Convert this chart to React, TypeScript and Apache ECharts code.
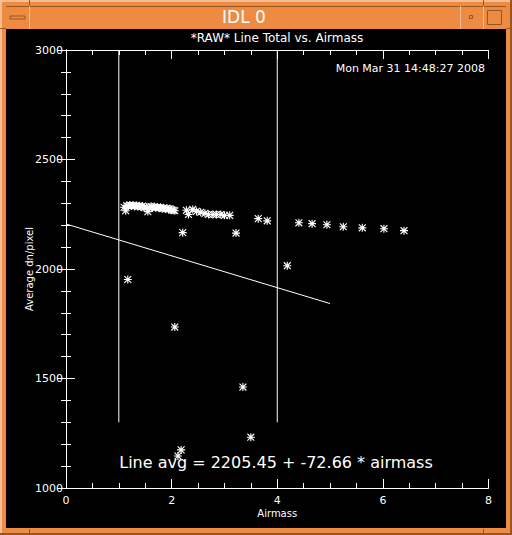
import React, { useEffect, useRef } from "react";
import * as echarts from "echarts";

const windowTitle = "IDL 0";
const chartTitle = "*RAW* Line Total vs. Airmass";
const timeStamp = "Mon Mar 31 14:48:27 2008";
const fitLabel = "Line avg = 2205.45 + -72.66 * airmass";
const xName = "Airmass";
const yName = "Average dn/pixel";

const fitIntercept = 2205.45;
const fitSlope = -72.66;
const fitXRange = [0, 5];

const markerX1 = 1;
const markerX2 = 4;
const markerYRange = [1300, 3000];

const clusterPoints: [number, number][] = [
  [1.1, 2282], [1.13, 2266], [1.15, 2290], [1.18, 2286], [1.21, 2292], [1.24, 2288],
  [1.27, 2291], [1.3, 2287], [1.33, 2290], [1.36, 2285], [1.39, 2289], [1.42, 2284],
  [1.45, 2287], [1.48, 2280], [1.52, 2283], [1.55, 2262], [1.58, 2278], [1.61, 2286],
  [1.64, 2282], [1.67, 2284], [1.7, 2280], [1.73, 2283], [1.76, 2279], [1.79, 2281],
  [1.82, 2276], [1.85, 2279], [1.88, 2274], [1.91, 2277], [1.94, 2272], [1.97, 2275],
  [2.0, 2270], [2.03, 2268], [2.06, 2266],
];

const middlePoints: [number, number][] = [
  [2.28, 2268], [2.32, 2249], [2.4, 2272], [2.47, 2263], [2.55, 2259], [2.63, 2254],
  [2.7, 2249], [2.78, 2249], [2.85, 2249], [2.93, 2249], [3.0, 2245], [3.1, 2245],
];

const tailPoints: [number, number][] = [
  [3.64, 2230], [3.81, 2220], [4.41, 2211], [4.66, 2207], [4.94, 2202],
  [5.25, 2193], [5.61, 2188], [6.02, 2184], [6.4, 2175],
];

const outlierPoints: [number, number][] = [
  [1.17, 1952], [2.21, 2166], [3.22, 2164], [2.06, 1735], [3.35, 1461],
  [3.5, 1232], [2.18, 1174], [2.12, 1146], [4.19, 2015],
];

const xTicks = { min: 0, max: 8, interval: 2 };
const yTicks = { min: 1000, max: 3000, interval: 500 };

const ASTERISK =
  "path://M0,4.3L10,4.3L10,5.7L0,5.7Z M4.3,0L5.7,0L5.7,10L4.3,10Z M1.2,0.2L9.8,8.8L8.8,9.8L0.2,1.2Z M8.8,0.2L9.8,1.2L1.2,9.8L0.2,8.8Z";

const FONT = "DejaVu Sans";
const ORANGE = "#EE8B43";
const LIGHT = "#F7BE96";
const DARK = "#9A5420";

export default function App() {
  const ref = useRef<HTMLDivElement>(null);
  useEffect(() => {
    document.body.style.margin = "0";
    const chart = echarts.init(ref.current!, null, { renderer: "svg" });
    const W = 512;
    const H = 535;
    const axisLine = { show: true, lineStyle: { color: "#fff", width: 1 } };
    const axisTick = { show: true, inside: true, length: 9, lineStyle: { color: "#fff" } };
    const minorBase = { show: true, length: 5, lineStyle: { color: "#fff" } };
    const splitLine = { show: false };
    const allPoints = [...clusterPoints, ...middlePoints, ...tailPoints, ...outlierPoints];
    const plain = (v: number) => String(v);
    chart.setOption({
      animation: false,
      backgroundColor: ORANGE,
      textStyle: { fontFamily: FONT },
      grid: { left: 66, top: 50, right: 23.5, bottom: 47, containLabel: false },
      xAxis: [
        {
          type: "value",
          ...xTicks,
          position: "bottom",
          name: xName,
          nameLocation: "middle",
          nameGap: 20,
          nameMoveOverlap: false,
          nameTextStyle: { color: "#fff", fontSize: 10, fontFamily: FONT },
          axisLabel: { color: "#fff", fontSize: 11, margin: 7, fontFamily: FONT, formatter: plain },
          minorTick: { ...minorBase, splitNumber: 4 },
          axisLine, axisTick, splitLine,
        },
        {
          type: "value",
          ...xTicks,
          position: "top",
          axisLabel: { show: false },
          minorTick: { ...minorBase, splitNumber: 4 },
          axisLine, axisTick, splitLine,
        },
      ],
      yAxis: [
        {
          type: "value",
          ...yTicks,
          position: "left",
          name: yName,
          nameLocation: "middle",
          nameGap: 32,
          nameMoveOverlap: false,
          nameTextStyle: { color: "#fff", fontSize: 10, fontFamily: FONT },
          axisLabel: { color: "#fff", fontSize: 11, margin: 3, fontFamily: FONT, formatter: plain },
          minorTick: { ...minorBase, splitNumber: 5 },
          axisLine, axisTick, splitLine,
        },
        {
          type: "value",
          ...yTicks,
          position: "right",
          axisLabel: { show: false },
          minorTick: { ...minorBase, splitNumber: 5 },
          axisLine, axisTick, splitLine,
        },
      ],
      graphic: [
        { type: "rect", z: -10, shape: { x: 0, y: 0, width: W, height: H }, style: { fill: ORANGE } },
        { type: "rect", z: -9, shape: { x: 0, y: 0, width: W, height: 2 }, style: { fill: LIGHT } },
        { type: "rect", z: -9, shape: { x: 0, y: 0, width: 2, height: H }, style: { fill: LIGHT } },
        { type: "rect", z: -9, shape: { x: 0, y: H - 2, width: W, height: 2 }, style: { fill: DARK } },
        { type: "rect", z: -9, shape: { x: W - 2, y: 0, width: 2, height: H }, style: { fill: DARK } },
        { type: "line", z: -9, shape: { x1: 6, y1: 6.5, x2: 506, y2: 6.5 }, style: { stroke: DARK, lineWidth: 1 } },
        { type: "line", z: -9, shape: { x1: 29.5, y1: 6, x2: 29.5, y2: 29 }, style: { stroke: LIGHT, lineWidth: 1 } },
        { type: "line", z: -9, shape: { x1: 460.5, y1: 6, x2: 460.5, y2: 29 }, style: { stroke: LIGHT, lineWidth: 1 } },
        { type: "line", z: -9, shape: { x1: 483.5, y1: 6, x2: 483.5, y2: 29 }, style: { stroke: LIGHT, lineWidth: 1 } },
        { type: "line", z: -9, shape: { x1: 29.5, y1: 0, x2: 29.5, y2: 6 }, style: { stroke: DARK, lineWidth: 1 } },
        { type: "line", z: -9, shape: { x1: 483.5, y1: 0, x2: 483.5, y2: 6 }, style: { stroke: DARK, lineWidth: 1 } },
        { type: "line", z: -9, shape: { x1: 29.5, y1: 529, x2: 29.5, y2: 535 }, style: { stroke: DARK, lineWidth: 1 } },
        { type: "line", z: -9, shape: { x1: 483.5, y1: 529, x2: 483.5, y2: 535 }, style: { stroke: DARK, lineWidth: 1 } },
        { type: "line", z: -9, shape: { x1: 0, y1: 28.5, x2: 6, y2: 28.5 }, style: { stroke: DARK, lineWidth: 1 } },
        { type: "line", z: -9, shape: { x1: 506, y1: 28.5, x2: 512, y2: 28.5 }, style: { stroke: DARK, lineWidth: 1 } },
        { type: "rect", z: -9, shape: { x: 10, y: 16, width: 15, height: 3 }, style: { fill: ORANGE, stroke: DARK, lineWidth: 1 } },
        { type: "rect", z: -9, shape: { x: 469.5, y: 15.5, width: 3, height: 3 }, style: { fill: ORANGE, stroke: DARK, lineWidth: 1 } },
        { type: "rect", z: -9, shape: { x: 487.5, y: 10.5, width: 14, height: 14 }, style: { fill: ORANGE, stroke: DARK, lineWidth: 1 } },
        {
          type: "text", z: -8, x: 244, y: 17,
          style: { text: windowTitle, fill: "#fff", font: `17px ${FONT}`, align: "center", verticalAlign: "middle" },
        },
        { type: "rect", z: -8, shape: { x: 6, y: 29, width: 500, height: 499 }, style: { fill: "#000" } },
        {
          type: "text", z: 5, x: 277, y: 38,
          style: { text: chartTitle, fill: "#fff", font: `12px ${FONT}`, align: "center", verticalAlign: "middle" },
        },
        {
          type: "text", z: 5, x: 485, y: 68,
          style: { text: timeStamp, fill: "#fff", font: `11px ${FONT}`, align: "right", verticalAlign: "middle" },
        },
        {
          type: "text", z: 5, x: 276, y: 462,
          style: { text: fitLabel, fill: "#fff", font: `16px ${FONT}`, align: "center", verticalAlign: "middle" },
        },
      ],
      series: [
        {
          type: "line",
          xAxisIndex: 0, yAxisIndex: 0,
          data: [[markerX1, markerYRange[0]], [markerX1, markerYRange[1]]],
          symbol: "none",
          lineStyle: { color: "#fff", width: 1 },
          silent: true,
        },
        {
          type: "line",
          xAxisIndex: 0, yAxisIndex: 0,
          data: [[markerX2, markerYRange[0]], [markerX2, markerYRange[1]]],
          symbol: "none",
          lineStyle: { color: "#fff", width: 1 },
          silent: true,
        },
        {
          type: "line",
          xAxisIndex: 0, yAxisIndex: 0,
          data: fitXRange.map((x) => [x, fitIntercept + fitSlope * x]),
          symbol: "none",
          lineStyle: { color: "#fff", width: 1 },
          silent: true,
        },
        {
          type: "scatter",
          xAxisIndex: 0, yAxisIndex: 0,
          data: allPoints,
          symbol: ASTERISK,
          symbolSize: 8,
          itemStyle: { color: "#fff", opacity: 1 },
          silent: true,
        },
      ],
    });
    return () => chart.dispose();
  }, []);
  return <div ref={ref} style={{ width: 512, height: 535 }} />;
}
